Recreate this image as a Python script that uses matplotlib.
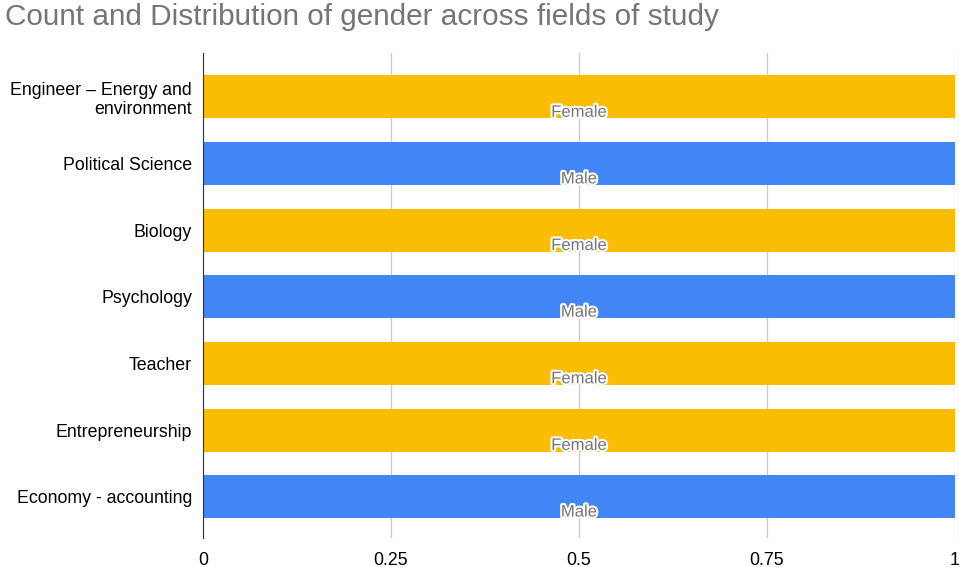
import matplotlib.pyplot as plt
import matplotlib.patheffects as pe

plt.rcParams['font.family'] = ['Liberation Sans', 'DejaVu Sans']

fields = ['Engineer – Energy and\nenvironment', 'Political Science', 'Biology',
          'Psychology', 'Teacher', 'Entrepreneurship', 'Economy - accounting']
genders = ['Female', 'Male', 'Female', 'Male', 'Female', 'Female', 'Male']
counts = [1, 1, 1, 1, 1, 1, 1]
colors = {'Female': '#FBBC04', 'Male': '#4285F4'}
xticks = [0, 0.25, 0.5, 0.75, 1]
xtick_labels = ['0', '0.25', '0.5', '0.75', '1']

fig = plt.figure(figsize=(9.59, 5.67), dpi=100)
ax = fig.add_axes([203 / 959, 1 - 538 / 567, 752 / 959, 485 / 567])

pos = list(range(len(fields)))
ax.barh(pos, counts, height=0.645, color=[colors[g] for g in genders], zorder=2)

# gender label sitting on the lower edge of each bar
for p, c, g in zip(pos, counts, genders):
    ax.text(c / 2, p + 0.23, g, ha='center', va='center', fontsize=12,
            color='#757575', zorder=3,
            path_effects=[pe.withStroke(linewidth=3, foreground='white')])

ax.set_xlim(0, 1)
ax.set_ylim(6.62, -0.66)
ax.set_yticks(pos)
ax.set_yticklabels(fields, fontsize=12.8, linespacing=1.15)
ax.set_xticks(xticks)
ax.set_xticklabels(xtick_labels, fontsize=12.8)
ax.tick_params(length=0)
ax.tick_params(axis='y', pad=8)
ax.tick_params(axis='x', pad=10)
ax.grid(axis='x', color='#cccccc', linewidth=1, zorder=0)
for s in ['top', 'right', 'bottom']:
    ax.spines[s].set_visible(False)
ax.spines['left'].set_color('#333333')
ax.spines['left'].set_zorder(4)

fig.text(5 / 959, 1 - 17 / 567, 'Count and Distribution of gender across fields of study',
         fontsize=21.4, color='#757575', ha='left', va='center')

fig.savefig('out.png', dpi=100)
